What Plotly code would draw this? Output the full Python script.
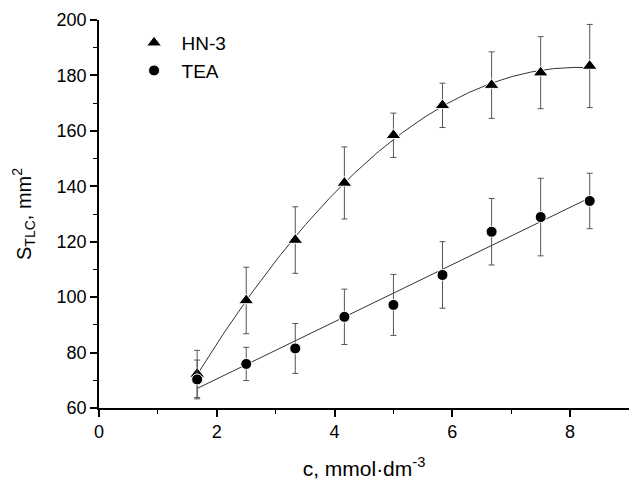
import numpy as np
import plotly.graph_objects as go

# Data
c_vals = [1.667, 2.5, 3.333, 4.167, 5.0, 5.833, 6.667, 7.5, 8.333]
hn3_vals = [72.3, 98.8, 120.6, 141.2, 158.4, 169.2, 176.5, 181.0, 183.4]
hn3_err = [8.5, 12, 12, 13, 8, 8, 12, 13, 15]
tea_vals = [70.3, 75.9, 81.5, 92.9, 97.2, 108.0, 123.6, 128.9, 134.7]
tea_err = [7, 6, 9, 10, 11, 12, 12, 14, 10]
x_ticks = [0, 2, 4, 6, 8]
y_ticks = [60, 80, 100, 120, 140, 160, 180, 200]

# fitted curves (derived from data)
xf = np.linspace(min(c_vals), max(c_vals), 200)
hn3_fit = np.polyval(np.polyfit(c_vals, hn3_vals, 2), xf)
tea_fit = np.polyval(np.polyfit(c_vals, tea_vals, 1), xf)

FONT = "Liberation Sans, Arial, sans-serif"
fig = go.Figure()
fig.add_trace(go.Scatter(x=xf, y=hn3_fit, mode="lines", line=dict(color="#333", width=1),
                         showlegend=False, hoverinfo="skip"))
fig.add_trace(go.Scatter(x=xf, y=tea_fit, mode="lines", line=dict(color="#333", width=1),
                         showlegend=False, hoverinfo="skip"))
fig.add_trace(go.Scatter(x=c_vals, y=hn3_vals, mode="markers", name="HN-3",
                         marker=dict(symbol="triangle-up", size=13, color="black",
                                     line=dict(color="white", width=1)),
                         error_y=dict(type="data", array=hn3_err, color="#555",
                                      thickness=1, width=3)))
fig.add_trace(go.Scatter(x=c_vals, y=tea_vals, mode="markers", name="TEA",
                         marker=dict(symbol="circle", size=11, color="black",
                                     line=dict(color="white", width=1)),
                         error_y=dict(type="data", array=tea_err, color="#555",
                                      thickness=1, width=3)))

axis_common = dict(showline=True, linecolor="black", linewidth=1.5, ticks="outside",
                   ticklen=7, tickwidth=1.5, tickcolor="black", showgrid=False,
                   zeroline=False, mirror=False,
                   tickfont=dict(family=FONT, size=18, color="black"))
fig.update_xaxes(range=[0, 9], tickvals=x_ticks,
                 minor=dict(ticks="outside", ticklen=4, tickwidth=1.2, tickcolor="black", dtick=1, tick0=0),
                 title=dict(text="c, mmol·dm<sup>-3</sup>", font=dict(family=FONT, size=21, color="black"),
                            standoff=20),
                 **axis_common)
fig.update_yaxes(range=[60, 200], tickvals=y_ticks,
                 minor=dict(ticks="outside", ticklen=4, tickwidth=1.2, tickcolor="black", dtick=10, tick0=60),
                 title=dict(text="S<sub>TLC</sub>, mm<sup>2</sup>", font=dict(family=FONT, size=20, color="black"),
                            standoff=20),
                 **axis_common)
fig.update_layout(width=629, height=480, margin=dict(l=99, r=0, t=20, b=72),
                  plot_bgcolor="white", paper_bgcolor="white",
                  legend=dict(x=0.052, y=0.99, xanchor="left", yanchor="top",
                              font=dict(family=FONT, size=19, color="black"),
                              bgcolor="rgba(0,0,0,0)", itemwidth=45, tracegroupgap=0))
fig.write_html("out.html")
